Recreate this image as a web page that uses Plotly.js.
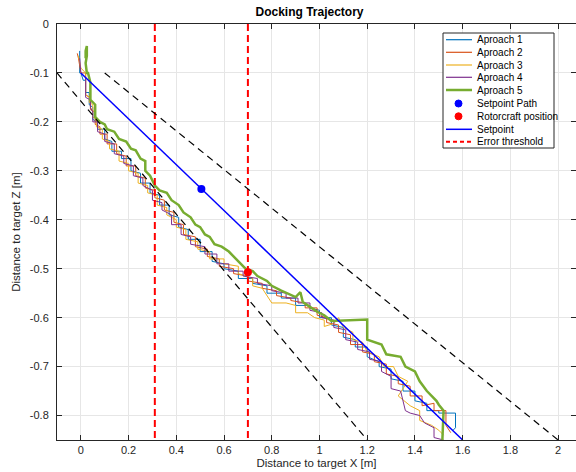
<!DOCTYPE html>
<html>
<head>
<meta charset="utf-8">
<script src="https://cdn.plot.ly/plotly-3.0.1.min.js"></script>
<style>html,body{margin:0;padding:0;background:#fff;}#chart{width:576px;height:472px;}</style>
</head>
<body>
<div id="chart"></div>
<script>
// ---------- data ----------
const seriesNames = ['Aproach 1','Aproach 2','Aproach 3','Aproach 4','Aproach 5'];
const seriesColors = ['#0072BD','#D95319','#EDB120','#7E2F8E','#77AC30'];

const a1x = [-0.005,-0.005,0.0,0.01,0.02,0.02,0.035,0.035,0.05,0.05,0.07,0.07,0.1,0.1,0.13,0.13,0.17,0.17,0.21,0.21,0.25,0.25,0.29,0.29,0.33,0.33,0.37,0.37,0.41,0.41,0.45,0.45,0.5,0.5,0.55,0.55,0.6,0.6,0.66,0.66,0.72,0.72,0.78,0.78,0.84,0.84,0.9,0.9,0.96,0.96,1.0,1.0,1.05,1.05,1.1,1.1,1.15,1.15,1.2,1.2,1.25,1.25,1.3,1.3,1.35,1.35,1.4,1.4,1.45,1.45,1.5,1.5,1.57,1.57,1.56];
const a1y = [-0.055,-0.1,-0.1,-0.115,-0.115,-0.14,-0.14,-0.165,-0.17,-0.195,-0.2,-0.215,-0.215,-0.235,-0.24,-0.26,-0.26,-0.275,-0.275,-0.3,-0.305,-0.325,-0.325,-0.345,-0.35,-0.37,-0.37,-0.39,-0.395,-0.415,-0.42,-0.44,-0.44,-0.465,-0.465,-0.485,-0.49,-0.5,-0.505,-0.52,-0.52,-0.53,-0.535,-0.55,-0.55,-0.56,-0.56,-0.575,-0.575,-0.58,-0.585,-0.6,-0.6,-0.615,-0.62,-0.64,-0.645,-0.66,-0.66,-0.68,-0.69,-0.7,-0.705,-0.725,-0.73,-0.75,-0.75,-0.77,-0.775,-0.79,-0.79,-0.795,-0.795,-0.825,-0.83];

const a2x = [-0.015,-0.01,0.0,0.02,0.02,0.04,0.04,0.06,0.06,0.08,0.08,0.11,0.11,0.15,0.15,0.19,0.19,0.23,0.23,0.27,0.27,0.31,0.31,0.35,0.35,0.39,0.39,0.43,0.43,0.48,0.48,0.53,0.53,0.58,0.58,0.64,0.64,0.7,0.7,0.76,0.76,0.82,0.82,0.88,0.88,0.94,0.94,0.99,0.99,1.03,1.03,1.08,1.08,1.13,1.13,1.18,1.18,1.23,1.23,1.28,1.28,1.33,1.33,1.38,1.38,1.43,1.43,1.48,1.48,1.53,1.53,1.55];
const a2y = [-0.06,-0.07,-0.1,-0.1,-0.145,-0.15,-0.175,-0.18,-0.205,-0.21,-0.225,-0.225,-0.245,-0.245,-0.265,-0.27,-0.29,-0.29,-0.31,-0.315,-0.335,-0.34,-0.355,-0.36,-0.38,-0.385,-0.405,-0.41,-0.43,-0.435,-0.455,-0.46,-0.475,-0.48,-0.495,-0.5,-0.51,-0.515,-0.525,-0.53,-0.54,-0.545,-0.555,-0.56,-0.565,-0.57,-0.58,-0.58,-0.595,-0.6,-0.61,-0.615,-0.63,-0.635,-0.655,-0.655,-0.67,-0.675,-0.69,-0.695,-0.715,-0.72,-0.735,-0.74,-0.76,-0.76,-0.78,-0.775,-0.79,-0.79,-0.82,-0.835];

const a3x = [-0.01,0.0,0.02,0.02,0.035,0.035,0.05,0.05,0.065,0.065,0.09,0.09,0.12,0.12,0.16,0.16,0.2,0.2,0.24,0.24,0.28,0.28,0.32,0.32,0.36,0.36,0.4,0.4,0.44,0.44,0.49,0.49,0.54,0.54,0.6,0.6,0.66,0.66,0.72,0.72,0.76,0.8,0.86,0.9,0.9,0.95,0.98,1.02,1.02,1.06,1.08,1.1,1.14,1.14,1.18,1.2,1.25,1.27,1.31,1.33,1.37,1.33,1.38,1.42,1.42,1.47,1.5,1.52];
const a3y = [-0.065,-0.09,-0.1,-0.145,-0.15,-0.16,-0.165,-0.19,-0.195,-0.21,-0.215,-0.235,-0.24,-0.255,-0.26,-0.28,-0.285,-0.3,-0.305,-0.325,-0.33,-0.345,-0.35,-0.37,-0.375,-0.39,-0.4,-0.415,-0.42,-0.44,-0.445,-0.46,-0.465,-0.48,-0.48,-0.49,-0.495,-0.51,-0.52,-0.535,-0.54,-0.57,-0.57,-0.575,-0.59,-0.59,-0.6,-0.605,-0.618,-0.612,-0.6,-0.62,-0.63,-0.645,-0.65,-0.67,-0.68,-0.7,-0.7,-0.72,-0.73,-0.76,-0.78,-0.79,-0.81,-0.82,-0.83,-0.84];

const a4x = [-0.005,0.0,0.02,0.02,0.04,0.04,0.05,0.05,0.07,0.07,0.1,0.1,0.14,0.14,0.18,0.18,0.22,0.22,0.26,0.26,0.3,0.3,0.34,0.34,0.38,0.38,0.42,0.42,0.46,0.46,0.52,0.52,0.57,0.57,0.62,0.62,0.68,0.68,0.74,0.74,0.8,0.8,0.86,0.86,0.91,0.91,0.96,0.96,1.01,1.01,1.06,1.06,1.11,1.11,1.16,1.16,1.21,1.21,1.26,1.26,1.3,1.3,1.34,1.36,1.38,1.42,1.44,1.48,1.48,1.52];
const a4y = [-0.07,-0.1,-0.11,-0.15,-0.155,-0.17,-0.18,-0.2,-0.2,-0.22,-0.225,-0.24,-0.245,-0.265,-0.27,-0.285,-0.29,-0.31,-0.315,-0.33,-0.34,-0.36,-0.365,-0.38,-0.39,-0.41,-0.41,-0.43,-0.435,-0.45,-0.455,-0.47,-0.47,-0.49,-0.49,-0.505,-0.505,-0.515,-0.52,-0.53,-0.535,-0.545,-0.55,-0.56,-0.56,-0.57,-0.57,-0.585,-0.59,-0.6,-0.605,-0.62,-0.625,-0.645,-0.65,-0.665,-0.67,-0.685,-0.69,-0.71,-0.72,-0.745,-0.75,-0.79,-0.795,-0.8,-0.815,-0.825,-0.845,-0.85];

const a5x = [0.02,0.02,0.025,0.025,0.02,0.025,0.03,0.04,0.04,0.06,0.06,0.08,0.1,0.11,0.14,0.16,0.19,0.21,0.23,0.25,0.27,0.27,0.29,0.31,0.33,0.36,0.38,0.41,0.43,0.46,0.48,0.5,0.52,0.54,0.56,0.59,0.62,0.64,0.67,0.69,0.72,0.74,0.78,0.8,0.84,0.87,0.9,0.92,0.93,0.96,0.99,1.02,1.05,1.2,1.2,1.26,1.28,1.34,1.36,1.4,1.42,1.45,1.49,1.5,1.52,1.515];
const a5y = [-0.07,-0.055,-0.045,-0.065,-0.08,-0.1,-0.1,-0.12,-0.155,-0.165,-0.19,-0.2,-0.205,-0.215,-0.22,-0.235,-0.24,-0.255,-0.258,-0.275,-0.28,-0.3,-0.31,-0.33,-0.34,-0.345,-0.36,-0.37,-0.385,-0.395,-0.41,-0.415,-0.43,-0.435,-0.45,-0.455,-0.465,-0.475,-0.49,-0.5,-0.505,-0.515,-0.525,-0.535,-0.545,-0.552,-0.558,-0.548,-0.568,-0.578,-0.588,-0.595,-0.607,-0.604,-0.645,-0.655,-0.675,-0.68,-0.7,-0.71,-0.73,-0.75,-0.77,-0.778,-0.79,-0.85];

const setpointPathX = [0.505], setpointPathY = [-0.337];
const rotorcraftX = [0.70], rotorcraftY = [-0.507];
const setpointX = [0, 1.6], setpointY = [-0.1, -0.85];
const threshold1X = [0.31, 0.31], threshold2X = [0.70, 0.70], thresholdY = [0, -0.85];
const coneLowX = [-0.1, 1.2], coneLowY = [-0.1, -0.85];
const coneHighX = [0.1, 2.0], coneHighY = [-0.1, -0.85];

const xTickVals = [0,0.2,0.4,0.6,0.8,1,1.2,1.4,1.6,1.8,2];
const xTickText = ['0','0.2','0.4','0.6','0.8','1','1.2','1.4','1.6','1.8','2'];
const yTickVals = [-0.8,-0.7,-0.6,-0.5,-0.4,-0.3,-0.2,-0.1,0];
const yTickText = ['-0.8','-0.7','-0.6','-0.5','-0.4','-0.3','-0.2','-0.1','0'];

const legendLabels = ['Aproach 1','Aproach 2','Aproach 3','Aproach 4','Aproach 5','Setpoint Path','Rotorcraft position','Setpoint','Error threshold'];

// ---------- layout helpers ----------
const FONT = 'Liberation Sans, Arial, Helvetica, sans-serif';
const M = {l:57, r:0, t:24, b:32};
const W = 576 - M.l - M.r, H = 472 - M.t - M.b;
const px = x => (x - M.l) / W;
const py = y => 1 - (y - M.t) / H;

const xs = [a1x,a2x,a3x,a4x,a5x], ys = [a1y,a2y,a3y,a4y,a5y];
const traces = [];
for (let i = 0; i < 5; i++) {
  traces.push({x: xs[i], y: ys[i], type:'scatter', mode:'lines', name: seriesNames[i],
    line:{color: seriesColors[i], width: i === 4 ? 2.5 : 1}, showlegend:false, hoverinfo:'skip'});
}
traces.push({x: setpointX, y: setpointY, mode:'lines', line:{color:'#0000FF', width:1.5}, showlegend:false});
traces.push({x: threshold1X, y: thresholdY, mode:'lines', line:{color:'#FF0000', width:2, dash:'7px,4px'}, showlegend:false});
traces.push({x: threshold2X, y: thresholdY, mode:'lines', line:{color:'#FF0000', width:2, dash:'7px,4px'}, showlegend:false});
traces.push({x: coneLowX, y: coneLowY, mode:'lines', line:{color:'#000000', width:1.2, dash:'7px,5px'}, showlegend:false});
traces.push({x: coneHighX, y: coneHighY, mode:'lines', line:{color:'#000000', width:1.2, dash:'7px,5px'}, showlegend:false});
traces.push({x: setpointPathX, y: setpointPathY, mode:'markers', marker:{color:'#0000FF', size:8}, showlegend:false});
traces.push({x: rotorcraftX, y: rotorcraftY, mode:'markers', marker:{color:'#FF0000', size:8}, showlegend:false});

// ---------- custom legend (MATLAB style) ----------
const rowsY = [39.7, 52.3, 65, 77.3, 90, 103.5, 116.3, 129.3, 141.7];
const shapes = [{type:'rect', xref:'paper', yref:'paper', x0:px(443), x1:px(554), y0:py(148), y1:py(33),
  line:{color:'#262626', width:1}, fillcolor:'#ffffff', layer:'above'}];
const annotations = [];
const legStyles = [
  {kind:'line', color:seriesColors[0], width:1.2},
  {kind:'line', color:seriesColors[1], width:1.2},
  {kind:'line', color:seriesColors[2], width:1.2},
  {kind:'line', color:seriesColors[3], width:1.2},
  {kind:'line', color:seriesColors[4], width:2.5},
  {kind:'dot', color:'#0000FF'},
  {kind:'dot', color:'#FF0000'},
  {kind:'line', color:'#0000FF', width:1.5},
  {kind:'line', color:'#FF0000', width:2, dash:'4px,3px'}
];
legStyles.forEach((s, i) => {
  const yy = rowsY[i];
  if (s.kind === 'line') {
    shapes.push({type:'line', xref:'paper', yref:'paper', x0:px(446), x1:px(472), y0:py(yy), y1:py(yy),
      line:{color:s.color, width:s.width, dash:s.dash || 'solid'}, layer:'above'});
  } else {
    shapes.push({type:'circle', xref:'paper', yref:'paper', x0:px(455), x1:px(462), y0:py(yy+3.5), y1:py(yy-3.5),
      line:{color:s.color, width:1}, fillcolor:s.color, layer:'above'});
  }
  annotations.push({xref:'paper', yref:'paper', x:px(475), y:py(yy), xanchor:'left', yanchor:'middle',
    text: legendLabels[i], showarrow:false, font:{family:FONT, size:10, color:'#000000'}});
});

const axisCommon = {
  ticks:'inside', ticklen:5, tickwidth:1, tickcolor:'#262626',
  showline:true, linecolor:'#262626', linewidth:1, mirror:'ticks',
  showgrid:true, gridcolor:'#e6e6e6', gridwidth:1, zeroline:false,
  tickfont:{family:FONT, size:11, color:'#262626'}, fixedrange:true
};

const layout = {
  width:576, height:472, margin:M, paper_bgcolor:'#ffffff', plot_bgcolor:'#ffffff',
  showlegend:false, font:{family:FONT, color:'#262626'},
  title:{text:'<b>Docking Trajectory</b>', font:{family:FONT, size:12, color:'#000000'},
    xref:'paper', x:px(309.5), xanchor:'center', yref:'container', y:1-12/472, yanchor:'middle'},
  xaxis: Object.assign({}, axisCommon, {range:[-0.1, 2.075], tickmode:'array', tickvals:xTickVals, ticktext:xTickText,
    title:{text:'Distance to target X [m]', font:{family:FONT, size:11.5, color:'#262626'}, standoff:3}}),
  yaxis: Object.assign({}, axisCommon, {range:[-0.85, 0], tickmode:'array', tickvals:yTickVals, ticktext:yTickText,
    ticklabelstandoff:5,
    title:{text:'Distance to target Z [m]', font:{family:FONT, size:11.5, color:'#262626'}, standoff:6}}),
  shapes: shapes, annotations: annotations
};

Plotly.newPlot('chart', traces, layout, {displayModeBar:false, staticPlot:true});
</script>
</body>
</html>
